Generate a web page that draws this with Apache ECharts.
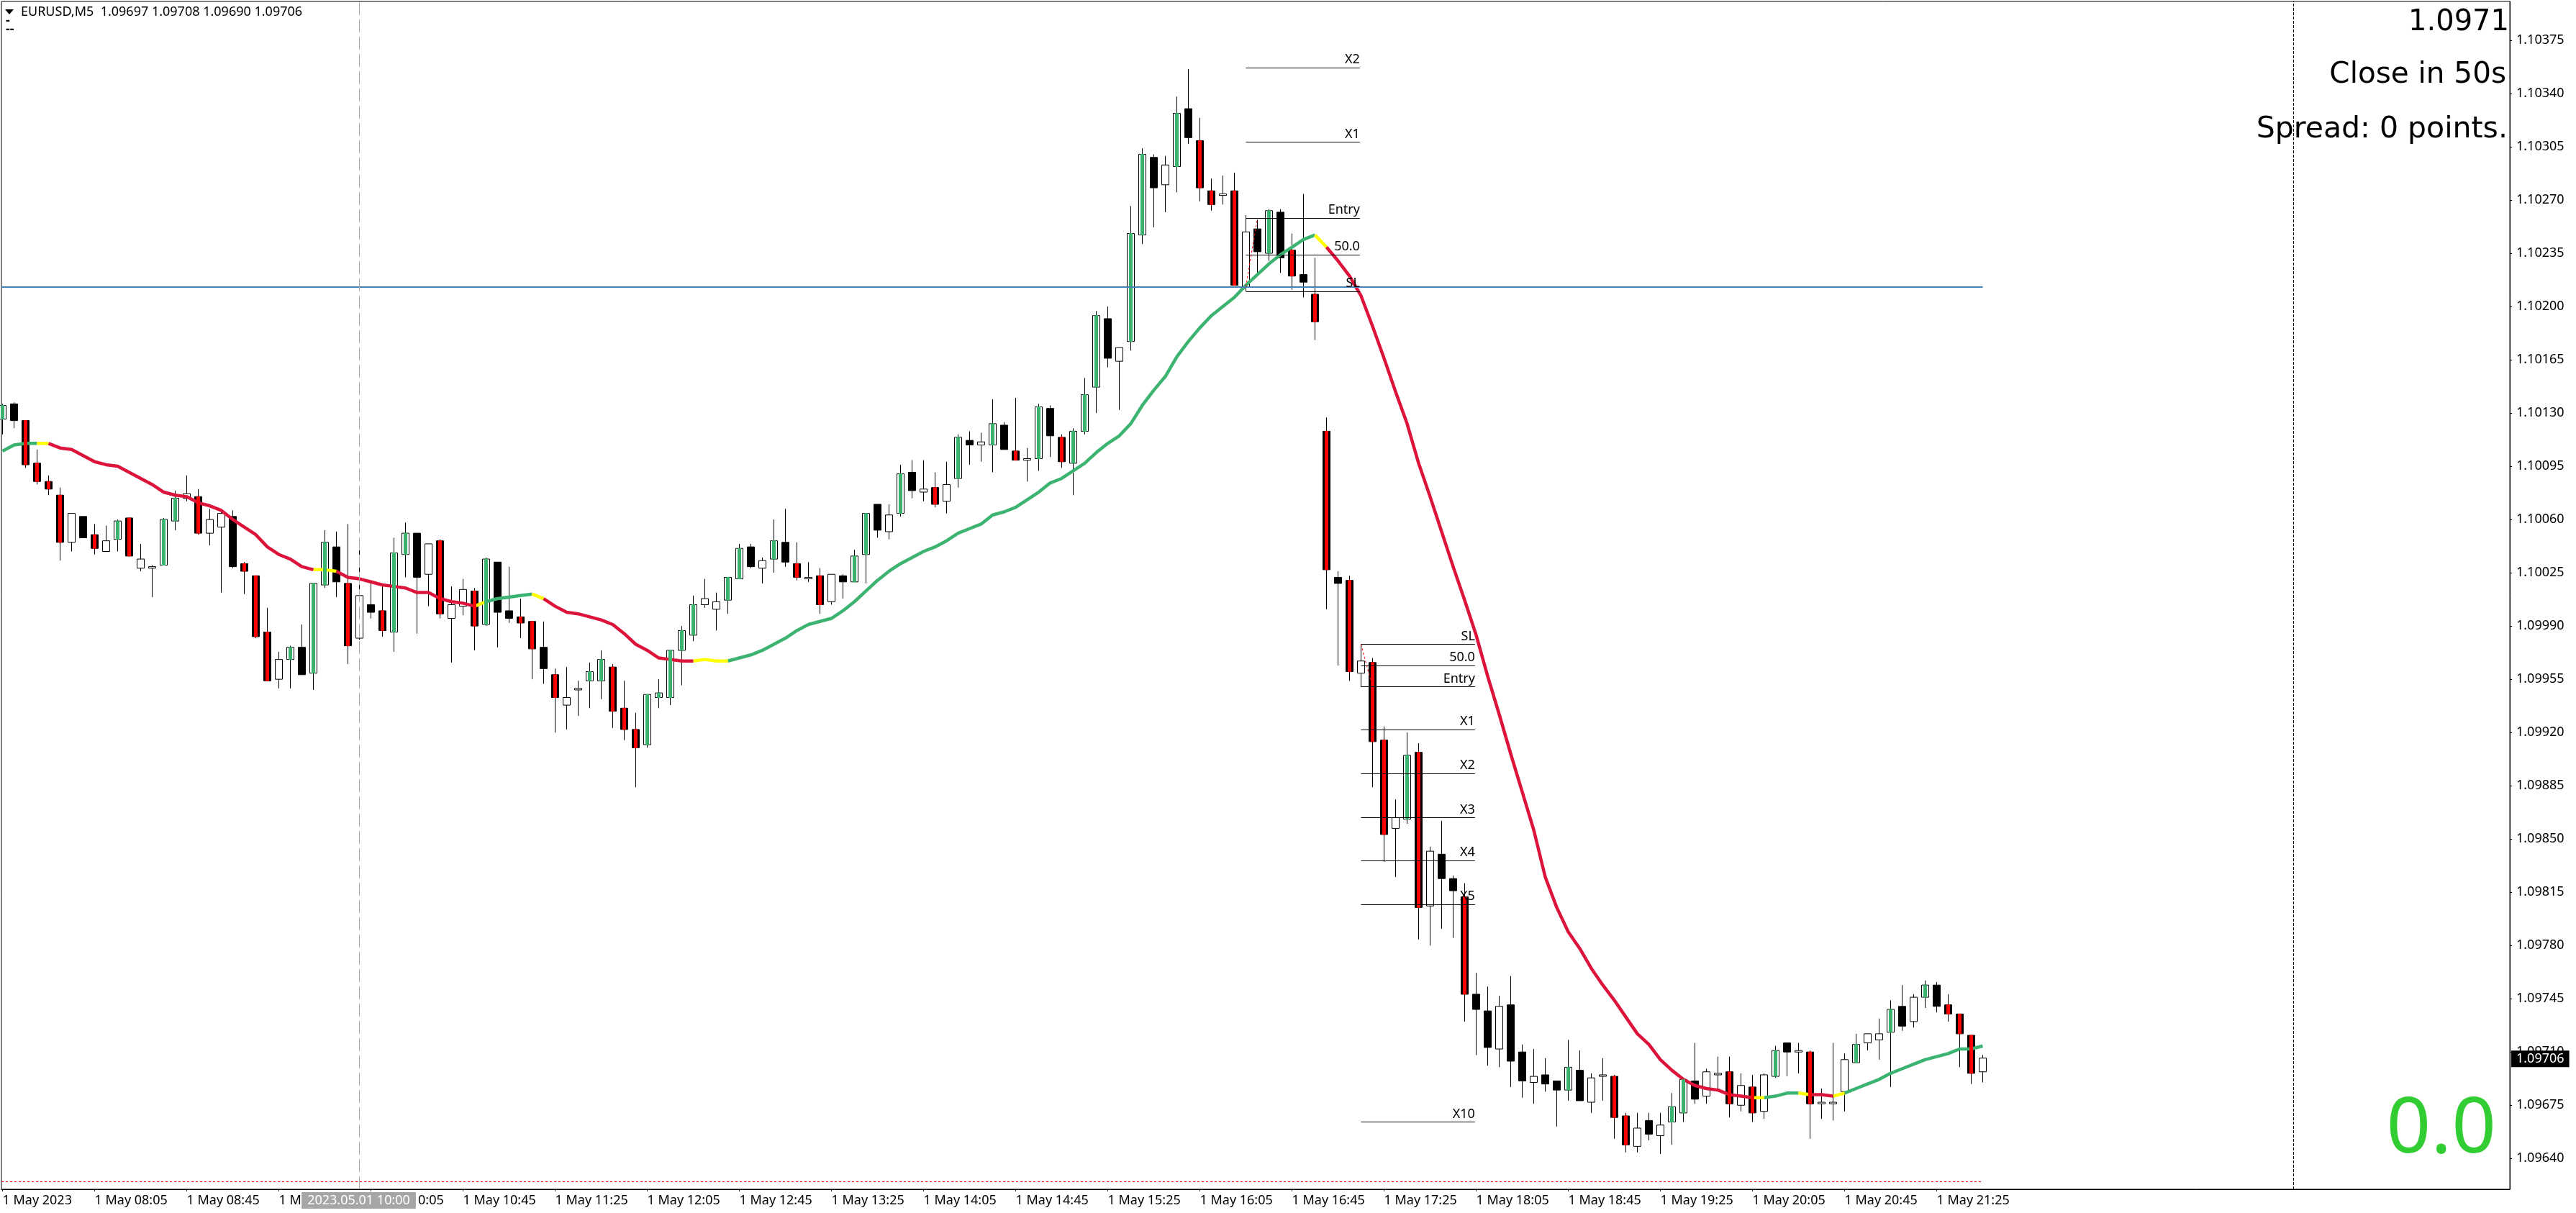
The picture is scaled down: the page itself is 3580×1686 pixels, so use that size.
<!DOCTYPE html>
<html>
<head>
<meta charset="utf-8">
<title>EURUSD,M5</title>
<script src="https://cdn.jsdelivr.net/npm/echarts@6/dist/echarts.min.js"></script>
<style>
  html, body { margin: 0; padding: 0; background: #fff; }
  #main { width: 3580px; height: 1686px; }
</style>
</head>
<body>
<div id="main"></div>
<script>
// candles, bar 0 is 1 May 07:25 and one bar is 5 minutes
const opens = [
  1.10126,1.10136,1.10125,1.10097,1.10085,1.10076,1.10045,1.10062,1.10050,1.10039,
  1.10047,1.10061,1.10028,1.10028,1.10030,1.10059,1.10074,1.10075,1.10051,1.10055,
  1.10062,1.10031,1.10023,1.09986,1.09955,1.09968,1.09976,1.09959,1.10017,1.10042,
  1.10018,1.09982,1.10004,1.10000,1.09986,1.10037,1.10051,1.10024,1.10046,1.09995,
  1.10003,1.10013,1.09991,1.10032,1.10000,1.09996,1.09993,1.09976,1.09958,1.09938,
  1.09948,1.09954,1.09954,1.09963,1.09936,1.09922,1.09912,1.09943,1.09943,1.09974,
  1.09984,1.10004,1.10001,1.10007,1.10021,1.10042,1.10028,1.10034,1.10045,1.10031,
  1.10021,1.10023,1.10006,1.10023,1.10019,1.10037,1.10070,1.10052,1.10064,1.10091,
  1.10078,1.10081,1.10072,1.10087,1.10112,1.10109,1.10109,1.10122,1.10105,1.10099,
  1.10100,1.10133,1.10114,1.10097,1.10118,1.10147,1.10192,1.10164,1.10177,1.10247,
  1.10298,1.10280,1.10292,1.10330,1.10309,1.10276,1.10273,1.10276,1.10213,1.10251,
  1.10235,1.10262,1.10237,1.10221,1.10208,1.10118,1.10022,1.10020,1.09959,1.09966,
  1.09915,1.09857,1.09863,1.09907,1.09806,1.09840,1.09824,1.09812,1.09748,1.09737,
  1.09712,1.09741,1.09710,1.09690,1.09695,1.09691,1.09685,1.09698,1.09677,1.09694,
  1.09694,1.09668,1.09648,1.09665,1.09655,1.09664,1.09670,1.09691,1.09681,1.09695,
  1.09697,1.09675,1.09687,1.09671,1.09694,1.09716,1.09710,1.09710,1.09676,1.09676,
  1.09684,1.09703,1.09716,1.09718,1.09723,1.09740,1.09730,1.09746,1.09754,1.09741,
  1.09735,1.09721,1.09697
]
const closes = [
  1.10135,1.10125,1.10096,1.10085,1.10080,1.10045,1.10064,1.10048,1.10041,1.10046,
  1.10059,1.10036,1.10034,1.10029,1.10060,1.10074,1.10077,1.10051,1.10060,1.10064,
  1.10029,1.10026,1.09983,1.09954,1.09968,1.09976,1.09958,1.10018,1.10045,1.10019,
  1.09977,1.10010,1.09999,1.09987,1.10038,1.10051,1.10022,1.10044,1.09998,1.10004,
  1.10014,1.09990,1.10034,1.09999,1.09995,1.09992,1.09975,1.09962,1.09943,1.09943,
  1.09949,1.09960,1.09968,1.09934,1.09922,1.09910,1.09945,1.09946,1.09974,1.09987,
  1.10004,1.10008,1.10006,1.10022,1.10041,1.10029,1.10033,1.10046,1.10032,1.10022,
  1.10022,1.10004,1.10024,1.10019,1.10036,1.10064,1.10053,1.10063,1.10090,1.10079,
  1.10080,1.10070,1.10083,1.10114,1.10109,1.10111,1.10123,1.10106,1.10099,1.10100,
  1.10134,1.10115,1.10098,1.10118,1.10142,1.10194,1.10166,1.10173,1.10248,1.10300,
  1.10278,1.10293,1.10327,1.10311,1.10278,1.10267,1.10274,1.10214,1.10249,1.10236,
  1.10263,1.10232,1.10220,1.10216,1.10190,1.10027,1.10018,1.09960,1.09967,1.09914,
  1.09853,1.09864,1.09905,1.09805,1.09842,1.09824,1.09816,1.09748,1.09738,1.09713,
  1.09740,1.09704,1.09691,1.09694,1.09689,1.09685,1.09700,1.09678,1.09693,1.09695,
  1.09667,1.09649,1.09660,1.09656,1.09662,1.09674,1.09692,1.09679,1.09697,1.09696,
  1.09676,1.09688,1.09670,1.09695,1.09711,1.09710,1.09711,1.09676,1.09677,1.09677,
  1.09705,1.09715,1.09722,1.09722,1.09738,1.09727,1.09746,1.09754,1.09740,1.09735,
  1.09722,1.09696,1.09706
]
const lows = [
  1.10116,1.10120,1.10094,1.10083,1.10076,1.10033,1.10039,1.10048,1.10037,1.10039,
  1.10039,1.10036,1.10026,1.10009,1.10030,1.10053,1.10072,1.10050,1.10043,1.10012,
  1.10028,1.10011,1.09982,1.09954,1.09949,1.09949,1.09958,1.09948,1.10015,1.10009,
  1.09965,1.09981,1.09995,1.09983,1.09973,1.10022,1.09985,1.10003,1.09995,1.09966,
  1.09997,1.09974,1.09990,1.09976,1.09992,1.09982,1.09955,1.09952,1.09920,1.09922,
  1.09931,1.09936,1.09942,1.09923,1.09915,1.09884,1.09910,1.09936,1.09938,1.09951,
  1.09980,1.10002,1.09987,1.09998,1.10021,1.10028,1.10018,1.10025,1.10029,1.10020,
  1.10019,1.09998,1.10004,1.10008,1.10019,1.10018,1.10048,1.10047,1.10062,1.10074,
  1.10072,1.10068,1.10064,1.10081,1.10096,1.10098,1.10091,1.10106,1.10099,1.10085,
  1.10092,1.10101,1.10094,1.10076,1.10116,1.10130,1.10160,1.10132,1.10171,1.10241,
  1.10252,1.10262,1.10275,1.10307,1.10269,1.10263,1.10267,1.10214,1.10210,1.10221,
  1.10230,1.10222,1.10211,1.10206,1.10178,1.10001,1.09964,1.09954,1.09950,1.09884,
  1.09835,1.09825,1.09860,1.09784,1.09780,1.09791,1.09785,1.09730,1.09708,1.09701,
  1.09700,1.09687,1.09680,1.09676,1.09684,1.09661,1.09678,1.09678,1.09670,1.09678,
  1.09653,1.09644,1.09644,1.09652,1.09643,1.09649,1.09664,1.09676,1.09676,1.09686,
  1.09667,1.09671,1.09664,1.09666,1.09693,1.09694,1.09696,1.09653,1.09666,1.09665,
  1.09671,1.09703,1.09711,1.09705,1.09687,1.09724,1.09726,1.09739,1.09736,1.09730,
  1.09700,1.09689,1.09690
]
const highs = [
  1.10136,1.10137,1.10125,1.10106,1.10089,1.10081,1.10064,1.10062,1.10057,1.10056,
  1.10060,1.10061,1.10044,1.10030,1.10061,1.10079,1.10089,1.10080,1.10067,1.10066,
  1.10066,1.10032,1.10023,1.10002,1.09973,1.09977,1.09991,1.10018,1.10053,1.10052,
  1.10057,1.10040,1.10019,1.10016,1.10048,1.10058,1.10051,1.10044,1.10047,1.10016,
  1.10021,1.10015,1.10035,1.10032,1.10029,1.10008,1.09993,1.09993,1.09962,1.09963,
  1.09954,1.09966,1.09974,1.09965,1.09954,1.09933,1.09945,1.09955,1.09974,1.09990,
  1.10010,1.10021,1.10012,1.10022,1.10044,1.10044,1.10035,1.10060,1.10067,1.10045,
  1.10032,1.10028,1.10024,1.10024,1.10040,1.10064,1.10070,1.10070,1.10096,1.10099,
  1.10099,1.10091,1.10098,1.10116,1.10118,1.10117,1.10139,1.10124,1.10140,1.10107,
  1.10136,1.10135,1.10116,1.10120,1.10153,1.10197,1.10200,1.10173,1.10266,1.10304,
  1.10300,1.10299,1.10338,1.10356,1.10324,1.10284,1.10286,1.10288,1.10260,1.10257,
  1.10264,1.10264,1.10248,1.10274,1.10232,1.10127,1.10026,1.10023,1.09978,1.09969,
  1.09924,1.09876,1.09920,1.09913,1.09845,1.09862,1.09826,1.09821,1.09762,1.09753,
  1.09747,1.09760,1.09715,1.09712,1.09706,1.09691,1.09718,1.09711,1.09696,1.09706,
  1.09695,1.09670,1.09670,1.09670,1.09670,1.09683,1.09692,1.09716,1.09699,1.09707,
  1.09707,1.09696,1.09695,1.09696,1.09714,1.09716,1.09716,1.09711,1.09686,1.09716,
  1.09709,1.09722,1.09722,1.09732,1.09744,1.09754,1.09748,1.09757,1.09756,1.09748,
  1.09735,1.09721,1.09708
]
// bars whose body carries the narrow coloured stripe
const highlighted = [
  0,2,3,4,5,8,10,11,14,15,17,21,22,23,25,27,28,30,33,34,35,38,41,42,45,46,48,
  51,52,53,54,55,56,57,58,59,60,63,64,67,69,71,74,75,78,81,83,86,88,90,92,93,94,95,
  98,99,102,104,105,107,110,112,114,115,117,119,120,122,123,127,136,140,141,
  145,146,150,152,154,157,161,164,167,169,170,171
]

// moving average, one value per bar
const maValues = [
  1.10105,1.10109,1.10110,1.10110,1.10110,1.10107,1.10106,1.10102,1.10098,1.10096,
  1.10095,1.10091,1.10087,1.10083,1.10078,1.10076,1.10075,1.10071,1.10069,1.10066,
  1.10060,1.10055,1.10050,1.10042,1.10037,1.10034,1.10029,1.10027,1.10027,1.10026,
  1.10022,1.10021,1.10019,1.10017,1.10016,1.10015,1.10012,1.10012,1.10008,1.10006,
  1.10005,1.10003,1.10006,1.10008,1.10009,1.10010,1.10011,1.10008,1.10003,1.09999,
  1.09998,1.09996,1.09994,1.09991,1.09985,1.09978,1.09974,1.09969,1.09968,1.09967,
  1.09967,1.09968,1.09967,1.09967,1.09969,1.09971,1.09974,1.09978,1.09982,1.09987,
  1.09991,1.09993,1.09995,1.10000,1.10006,1.10013,1.10020,1.10026,1.10031,1.10035,
  1.10039,1.10042,1.10046,1.10051,1.10054,1.10057,1.10063,1.10065,1.10068,1.10073,
  1.10078,1.10084,1.10087,1.10092,1.10097,1.10104,1.10110,1.10115,1.10123,1.10135,
  1.10145,1.10154,1.10167,1.10177,1.10186,1.10194,1.10200,1.10206,1.10214,1.10221,
  1.10228,1.10234,1.10239,1.10244,1.10247,1.10239,1.10230,1.10220,1.10207,1.10187,
  1.10166,1.10144,1.10123,1.10097,1.10075,1.10052,1.10029,1.10007,1.09984,1.09957,
  1.09932,1.09906,1.09881,1.09856,1.09825,1.09805,1.09789,1.09778,1.09765,1.09754,
  1.09744,1.09733,1.09722,1.09715,1.09705,1.09698,1.09692,1.09688,1.09686,1.09685,
  1.09682,1.09681,1.09680,1.09680,1.09681,1.09683,1.09683,1.09682,1.09682,1.09681,
  1.09683,1.09686,1.09689,1.09692,1.09696,1.09699,1.09702,1.09705,1.09707,1.09709,
  1.09712,1.09712,1.09714
]
const maGreenRuns = [[0, 3], [42, 46], [63, 114], [153, 156], [160, 172]]
const maYellowRuns = [[3, 4], [27, 29], [41, 42], [46, 47], [60, 63], [114, 115], [152, 153], [156, 157], [159, 160]]
const maRedRuns = [[4, 27], [29, 41], [47, 60], [115, 152], [157, 159]]

// trade levels drawn as objects on the chart
const upperLevelNames = ['X2', 'X1', 'Entry', '50.0', 'SL']
const upperLevelPrices = [1.10357, 1.10308, 1.10258, 1.10234, 1.10210]
const lowerLevelNames = ['SL', '50.0', 'Entry', 'X1', 'X2', 'X3', 'X4', 'X5', 'X10']
const lowerLevelPrices = [1.09978, 1.09964, 1.09950, 1.09922, 1.09893, 1.09864, 1.09836, 1.09807, 1.09664]
const upperLevelBars = [108, 117.9]
const lowerLevelBars = [118, 127.9]
const bluePrice = 1.10213
const dottedPrice = 1.09625
const upperSwing = [[108, 1.10213], [109, 1.10258]]
const lowerSwing = [[118, 1.09978], [118.85, 1.09954]]

// axes
const timeTicks = [0, 8, 16, 24, 32, 40, 48, 56, 64, 72, 80, 88, 96, 104, 112, 120, 128, 136, 144, 152, 160, 168]
const timeLabels = [
  '1 May 2023', '1 May 08:05', '1 May 08:45', '1 May 09:25', '1 May 10:05', '1 May 10:45',
  '1 May 11:25', '1 May 12:05', '1 May 12:45', '1 May 13:25', '1 May 14:05', '1 May 14:45',
  '1 May 15:25', '1 May 16:05', '1 May 16:45', '1 May 17:25', '1 May 18:05', '1 May 18:45',
  '1 May 19:25', '1 May 20:05', '1 May 20:45', '1 May 21:25'
]
const priceTicks = [
  1.10375, 1.10340, 1.10305, 1.10270, 1.10235, 1.10200, 1.10165, 1.10130, 1.10095, 1.10060, 1.10025,
  1.09990, 1.09955, 1.09920, 1.09885, 1.09850, 1.09815, 1.09780, 1.09745, 1.09710, 1.09675, 1.09640
]
const barMin = -0.09375
const barMax = 217.78125
const priceMin = 1.096198
const priceMax = 1.104005
const crosshairBar = 31
const crosshairLabel = '2023.05.01 10:00'
const separatorBar = 199
const lastPrice = 1.09706

const headerText = 'EURUSD,M5  1.09697 1.09708 1.09690 1.09706'
const priceText = '1.0971'
const closeText = 'Close in 50s'
const spreadText = 'Spread: 0 points.'
const profitText = '0.0'

const labelFont = '"Noto Sans", sans-serif'
const bigFont = '"DejaVu Sans", sans-serif'

const candleData = opens.map((o, i) => [i, o, closes[i], lows[i], highs[i]])
const stripeData = highlighted.map((i) => {
  const top = Math.max(opens[i], closes[i])
  const bottom = Math.min(opens[i], closes[i])
  return [i, opens[i], closes[i], bottom, top]
})

const maSeries = (runs, color, name) => {
  const points = maValues.map((v, i) => {
    const inRun = runs.some((r) => i >= r[0] && i <= r[1])
    return [i, inRun ? v : null]
  })
  return {
    name,
    type: 'line',
    data: points,
    z: 3,
    symbol: 'none',
    silent: true,
    connectNulls: false,
    lineStyle: { color, width: 4.5, cap: 'butt', join: 'round' }
  }
}

const levelLines = (names, prices, bars) => names.map((name, i) => [
  {
    coord: [bars[0], prices[i]],
    label: {
      show: true,
      formatter: name,
      position: 'insideEndTop',
      distance: [0, 2],
      color: '#000',
      fontFamily: labelFont,
      fontSize: 18,
      padding: 0
    }
  },
  { coord: [bars[1], prices[i]] }
])

const plainLine = (from, to, lineStyle) => [
  { coord: from, lineStyle, label: { show: false } },
  { coord: to }
]

// the grey date box on the time axis and the black price box on the price axis
const renderAxisTag = (params, api) => {
  const at = api.coord([api.value(0), api.value(1)])
  const isDate = params.dataIndex === 0
  return {
    type: 'text',
    style: {
      x: isDate ? at[0] - 1 : at[0] + 2,
      y: isDate ? at[1] + 4 : at[1] + 1,
      text: isDate ? crosshairLabel : lastPrice.toFixed(5),
      align: isDate ? 'center' : 'left',
      verticalAlign: isDate ? 'top' : 'middle',
      fill: '#fff',
      font: '18px ' + labelFont,
      lineHeight: 19,
      backgroundColor: isDate ? '#a6a6a6' : '#000',
      padding: isDate ? [2, 8, 2, 8] : [2, 7, 2, 7]
    }
  }
}

const chart = echarts.init(document.getElementById('main'))

chart.setOption({
  animation: false,
  backgroundColor: '#fff',
  grid: {
    show: true,
    left: 2,
    right: 92,
    top: 2,
    bottom: 33,
    borderColor: '#000',
    borderWidth: 1,
    backgroundColor: '#fff'
  },
  xAxis: {
    type: 'value',
    min: barMin,
    max: barMax,
    splitLine: { show: false },
    axisLine: { show: true, onZero: false, lineStyle: { color: '#000', width: 1 } },
    axisTick: { show: true, length: 3, customValues: timeTicks, lineStyle: { color: '#000' } },
    axisLabel: {
      customValues: timeTicks,
      formatter: (v) => timeLabels[timeTicks.indexOf(v)],
      align: 'left',
      margin: 7,
      color: '#000',
      fontFamily: labelFont,
      fontSize: 18
    }
  },
  yAxis: {
    type: 'value',
    position: 'right',
    min: priceMin,
    max: priceMax,
    splitLine: { show: false },
    axisLine: { show: true, onZero: false, lineStyle: { color: '#000', width: 1 } },
    axisTick: { show: true, length: 3, customValues: priceTicks, lineStyle: { color: '#000' } },
    axisLabel: {
      customValues: priceTicks,
      formatter: (v) => v.toFixed(5),
      margin: 9,
      color: '#000',
      fontFamily: labelFont,
      fontSize: 18
    }
  },
  series: [
    {
      name: 'objects',
      type: 'line',
      data: [],
      z: 1,
      silent: true,
      markLine: {
        silent: true,
        symbol: 'none',
        precision: 5,
        animation: false,
        lineStyle: { color: '#000', width: 1, type: 'solid' },
        data: [
          ...levelLines(upperLevelNames, upperLevelPrices, upperLevelBars),
          ...levelLines(lowerLevelNames, lowerLevelPrices, lowerLevelBars),
          plainLine([barMin, bluePrice], [172, bluePrice], { color: '#4682b4', width: 2, type: 'solid' }),
          plainLine([barMin, dottedPrice], [172, dottedPrice], { color: '#ff0000', width: 1, type: [3, 3] }),
          plainLine(upperSwing[0], upperSwing[1], { color: '#ff0000', width: 1, type: [3, 3] }),
          plainLine(lowerSwing[0], lowerSwing[1], { color: '#ff0000', width: 1, type: [3, 3] }),
          plainLine([separatorBar, priceMin], [separatorBar, priceMax], { color: '#000', width: 1, type: [4, 2] }),
          plainLine([crosshairBar, priceMin], [crosshairBar, priceMax], { color: '#aaaaaa', width: 1, type: [18, 6] })
        ]
      }
    },
    {
      name: 'EURUSD,M5',
      type: 'candlestick',
      data: candleData,
      encode: { x: 0, y: [1, 2, 3, 4] },
      z: 2,
      silent: true,
      barWidth: 10,
      itemStyle: {
        color: '#fff',
        color0: '#000',
        borderColor: '#000',
        borderColor0: '#000',
        borderWidth: 1
      }
    },
    maSeries(maGreenRuns, '#3cb371', 'ma rising'),
    maSeries(maYellowRuns, '#ffff00', 'ma flat'),
    maSeries(maRedRuns, '#dc143c', 'ma falling'),
    {
      name: 'stripes',
      type: 'candlestick',
      data: stripeData,
      encode: { x: 0, y: [1, 2, 3, 4] },
      z: 4,
      silent: true,
      barWidth: 5,
      itemStyle: {
        color: '#3cb371',
        color0: '#ff0000',
        borderColor: '#3cb371',
        borderColor0: '#ff0000',
        borderWidth: 1
      }
    },
    {
      name: 'axis tags',
      type: 'custom',
      data: [[crosshairBar, priceMin], [barMax, lastPrice]],
      encode: { x: 0, y: 1 },
      clip: false,
      silent: true,
      z: 10,
      renderItem: renderAxisTag
    }
  ],
  graphic: [
    {
      type: 'polygon',
      z: 100,
      shape: { points: [[7, 13], [19, 13], [13, 20]] },
      style: { fill: '#000' }
    },
    {
      type: 'text',
      z: 100,
      x: 29,
      y: 17,
      style: { text: headerText, fill: '#000', font: '18px ' + labelFont, verticalAlign: 'middle' }
    },
    {
      type: 'text',
      z: 100,
      x: 8,
      y: 29,
      style: { text: '-', fill: '#000', font: 'bold 18px ' + labelFont, verticalAlign: 'middle' }
    },
    {
      type: 'text',
      z: 100,
      x: 8,
      y: 41,
      style: { text: '--', fill: '#000', font: 'bold 18px ' + labelFont, verticalAlign: 'middle' }
    },
    {
      type: 'text',
      z: 100,
      x: 3487,
      y: 32,
      style: { text: priceText, fill: '#000', font: '40px ' + bigFont, align: 'right', verticalAlign: 'middle' }
    },
    {
      type: 'text',
      z: 100,
      x: 3483,
      y: 104,
      style: { text: closeText, fill: '#000', font: '40.5px ' + bigFont, align: 'right', verticalAlign: 'middle' }
    },
    {
      type: 'text',
      z: 100,
      x: 3485,
      y: 180,
      style: { text: spreadText, fill: '#000', font: '41px ' + bigFont, align: 'right', verticalAlign: 'middle' }
    },
    {
      type: 'text',
      z: 100,
      x: 3469,
      y: 1571,
      style: { text: profitText, fill: '#32cd32', font: '108px ' + labelFont, align: 'right', verticalAlign: 'middle' }
    }
  ]
})
</script>
</body>
</html>
